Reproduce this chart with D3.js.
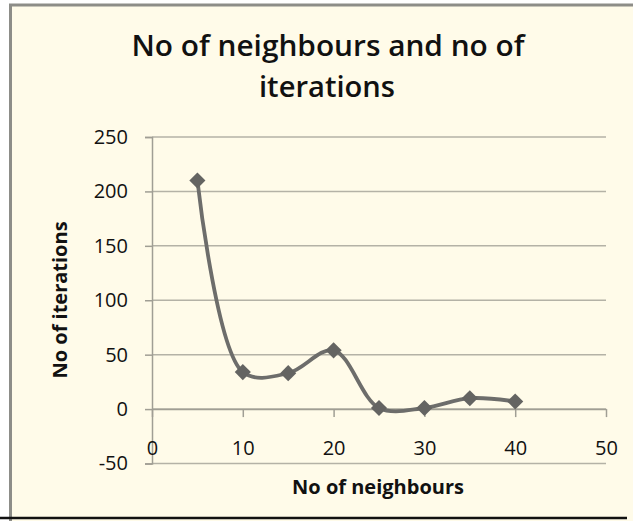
<!DOCTYPE html>
<html>
<head>
<meta charset="utf-8">
<title>No of neighbours and no of iterations</title>
<script src="https://d3js.org/d3.v7.min.js"></script>
<style>
  body { margin: 0; background: #fff; }
  text { font-family: "Open Sans", "Noto Sans", sans-serif; fill: #111; }
</style>
</head>
<body>
<svg id="chart" width="633" height="521"></svg>
<script>
// values
var neighbours = [5, 10, 15, 20, 25, 30, 35, 40];
var iterations = [210, 34, 33, 54, 1, 1, 10, 7];
var xTicks = [0, 10, 20, 30, 40, 50];
var yTicks = [-50, 0, 50, 100, 150, 200, 250];

var svg = d3.select("#chart");

// chart area with border
svg.append("rect")
  .attr("x", 10.5).attr("y", 5)
  .attr("width", 640).attr("height", 520)
  .attr("fill", "#fffbe9")
  .attr("stroke", "#8d8d88")
  .attr("stroke-width", 3);
svg.append("line")
  .attr("x1", 0).attr("x2", 627)
  .attr("y1", 518).attr("y2", 518)
  .attr("stroke", "#111").attr("stroke-width", 2.5);

var x = d3.scaleLinear([0, 50], [152, 606]);
var y = d3.scaleLinear([-50, 250], [463.5, 137]);

// gridlines
svg.append("g").selectAll("line")
  .data(yTicks).join("line")
  .attr("x1", x(0)).attr("x2", x(50))
  .attr("y1", d => y(d)).attr("y2", d => y(d))
  .attr("stroke", "#b4b2a6").attr("stroke-width", 1.5);

// y axis (plain hyphen for negatives, like the original)
var yAxis = svg.append("g")
  .attr("transform", `translate(${x(0)},0)`)
  .call(d3.axisLeft(y).tickValues(yTicks).tickFormat(d => String(d)).tickSize(7).tickPadding(17));
yAxis.select(".domain").attr("stroke", "#a09e94").attr("stroke-width", 1.5);
yAxis.selectAll(".tick line").attr("stroke", "#a09e94").attr("stroke-width", 1.5);
yAxis.selectAll(".tick text")
  .style("font-family", "Open Sans").style("font-size", "20px").attr("fill", "#111");

// x axis, crossing at 0
var xAxis = svg.append("g")
  .attr("transform", `translate(0,${y(0)})`)
  .call(d3.axisBottom(x).tickValues(xTicks).tickFormat(d => String(d)).tickSize(8).tickPadding(24).tickSizeOuter(0));
xAxis.select(".domain").attr("stroke", "#a09e94").attr("stroke-width", 1.5);
xAxis.selectAll(".tick line").attr("stroke", "#a09e94").attr("stroke-width", 1.5);
xAxis.selectAll(".tick text")
  .style("font-family", "Open Sans").style("font-size", "20px").attr("fill", "#111");

// smoothed line
var pts = neighbours.map((n, i) => [n, iterations[i]]);
svg.append("path")
  .datum(pts)
  .attr("fill", "none")
  .attr("stroke", "#6d6d6b")
  .attr("stroke-width", 3.8)
  .attr("d", d3.line().x(d => x(d[0])).y(d => y(d[1])).curve(d3.curveCatmullRom.alpha(0.5)));

// diamond markers
svg.append("g").selectAll("path")
  .data(pts).join("path")
  .attr("transform", d => `translate(${x(d[0])},${y(d[1])}) rotate(45)`)
  .attr("d", d3.symbol(d3.symbolSquare, 130))
  .attr("fill", "#646462");

// titles
svg.append("text")
  .attr("x", 328).attr("y", 56)
  .attr("text-anchor", "middle")
  .attr("textLength", 393).attr("lengthAdjust", "spacingAndGlyphs")
  .style("font-size", "28px").style("font-weight", 600)
  .text("No of neighbours and no of");
svg.append("text")
  .attr("x", 327).attr("y", 97)
  .attr("text-anchor", "middle")
  .attr("textLength", 136).attr("lengthAdjust", "spacingAndGlyphs")
  .style("font-size", "28px").style("font-weight", 600)
  .text("iterations");

svg.append("text")
  .attr("x", 378).attr("y", 494)
  .attr("text-anchor", "middle")
  .style("font-size", "20px").style("font-weight", 700)
  .text("No of neighbours");

svg.append("text")
  .attr("transform", "translate(67,300) rotate(-90)")
  .attr("text-anchor", "middle")
  .style("font-size", "20px").style("font-weight", 700)
  .text("No of iterations");
</script>
</body>
</html>
